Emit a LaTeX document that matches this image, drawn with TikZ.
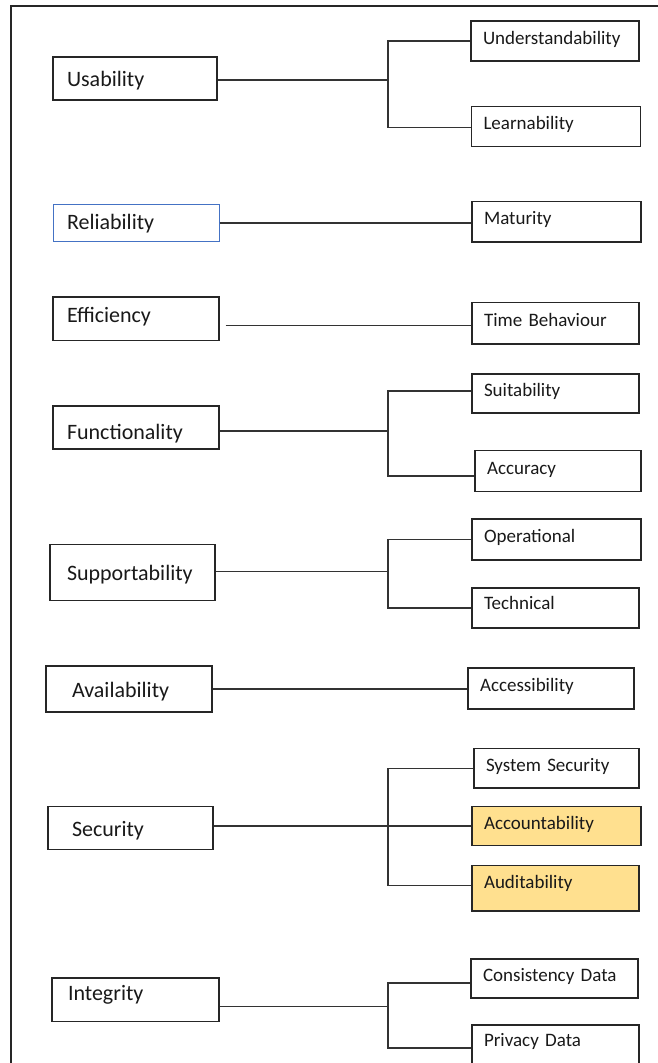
\documentclass[tikz,border=0pt]{standalone}
\usepackage{fontspec}
\usetikzlibrary{positioning}
\newfontfamily\carlito{Carlito}
\definecolor{relblue}{RGB}{68,114,196}
\definecolor{gold}{RGB}{255,224,143}

\begin{document}
\begin{tikzpicture}[x=1pt, y=-1pt,
  cat/.style={draw=black!85, line width=1.2pt, align=left, text=black!90,
    font={\carlito\fontsize{22}{26}\selectfont}, inner xsep=14pt, inner ysep=2pt,
    text width=138pt, minimum height=43pt, text height=20.5pt, text depth=4.5pt},
  sub/.style={draw=black!85, line width=1.2pt, align=left, text=black!90,
    font={\carlito\fontsize{19}{23}\selectfont}, inner xsep=12pt, inner ysep=2pt,
    text width=143pt, minimum height=40pt, text height=13pt, text depth=7pt},
  link/.style={draw=black!80, line width=1.2pt}]
  \useasboundingbox (0,0) rectangle (658,1063);

  % Frame
  \draw[line width=1.2pt, black!85] (658,6) -- (11,6) -- (11,1063);

  % Main characteristics
  \node[cat, text width=136pt] (usab) at (135,78.5) {Usability};
  \node[cat, draw=relblue, line width=1pt, minimum height=37pt, text depth=8.5pt] (rel) at (136,223) {Reliability};
  \node[cat, minimum height=43.5pt, text depth=13.3pt] (eff) at (136,318.7) {Efficiency};
  \node[cat, text height=27.5pt] (func) at (136,427.5) {Functionality};
  \node[cat, inner xsep=17pt, text width=131pt, minimum height=56pt] (supp) at (132.5,572.5) {Supportability};
  \node[cat, inner xsep=26pt, text width=114pt, minimum height=46pt] (avail) at (129,689) {Availability};
  \node[cat, inner xsep=24pt, text width=117pt, minimum height=42.5pt] (sec) at (130.5,828) {Security};
  \node[cat, inner xsep=16pt, text width=135pt, minimum height=43.7pt, text depth=18.5pt] (integ) at (135.5,999.8) {Integrity};

  % Sub characteristics
  \node[sub, text width=144pt] (und) at (555,41) {Understandability};
  \node[sub, text width=145pt] (lrn) at (556,126.7) {Learnability};
  \node[sub, text width=145pt, minimum height=40.5pt] (mat) at (556.5,221.8) {Maturity};
  \node[sub, minimum height=41.3pt] (tb) at (555.5,323.3) {Time Behaviour};
  \node[sub, minimum height=39pt] (suit) at (555.5,393.5) {Suitability};
  \node[sub, text width=142pt, minimum height=41pt] (acc) at (558,471) {Accuracy};
  \node[sub, text width=145pt, minimum height=41pt] (oper) at (556.5,539.5) {Operational};
  \node[sub, text depth=10.6pt] (tech) at (555.5,608) {Technical};
  \node[sub, text width=142pt, minimum height=41pt] (accs) at (551,688.5) {Accessibility};
  \node[sub, text width=141pt, minimum height=39.5pt] (sys) at (556.5,768.3) {System Security};
  \node[sub, fill=gold, text width=145pt, minimum height=39.5pt] (acct) at (556.5,826) {Accountability};
  \node[sub, fill=gold, minimum height=45.3pt, text depth=11.8pt] (aud) at (555.5,888.3) {Auditability};
  \node[sub, minimum height=39pt] (cons) at (554.5,978.5) {Consistency Data};
  \node[sub, minimum height=41pt, text depth=11.6pt] (priv) at (555.5,1045.5) {Privacy Data};

  % Connectors
  \coordinate (uj) at (388,80);
  \draw[link] (usab.east |- uj) -- (uj);
  \draw[link] (und.west) -| (uj) |- ([yshift=-1pt]lrn.west);

  \draw[link] (rel.east) -- (rel.east -| mat.west);

  \coordinate (ej) at ([yshift=-2pt]tb.west);
  \draw[link] ([xshift=6pt]eff.east |- ej) -- (ej);

  \coordinate (fj) at (388,431);
  \draw[link] (func.east |- fj) -- (fj);
  \draw[link] ([yshift=2.5pt]suit.west) -| (fj) |- ([yshift=-5pt]acc.west);

  \coordinate (sj) at (388,571.5);
  \draw[link] (supp.east |- sj) -- (sj);
  \draw[link] (oper.west) -| (sj) |- (tech.west);

  \draw[link] (avail.east) -- (avail.east -| accs.west);

  \coordinate (xj) at (388,826);
  \draw[link] (sec.east |- acct.west) -- (acct.west);
  \draw[link] (sys.west) -| (xj) |- ([yshift=3pt]aud.west);

  \coordinate (ij) at (388,1006.5);
  \draw[link] (integ.east |- ij) -- (ij);
  \draw[link] ([yshift=-4.5pt]cons.west) -| (ij) |- ([yshift=-2.5pt]priv.west);
\end{tikzpicture}
\end{document}
